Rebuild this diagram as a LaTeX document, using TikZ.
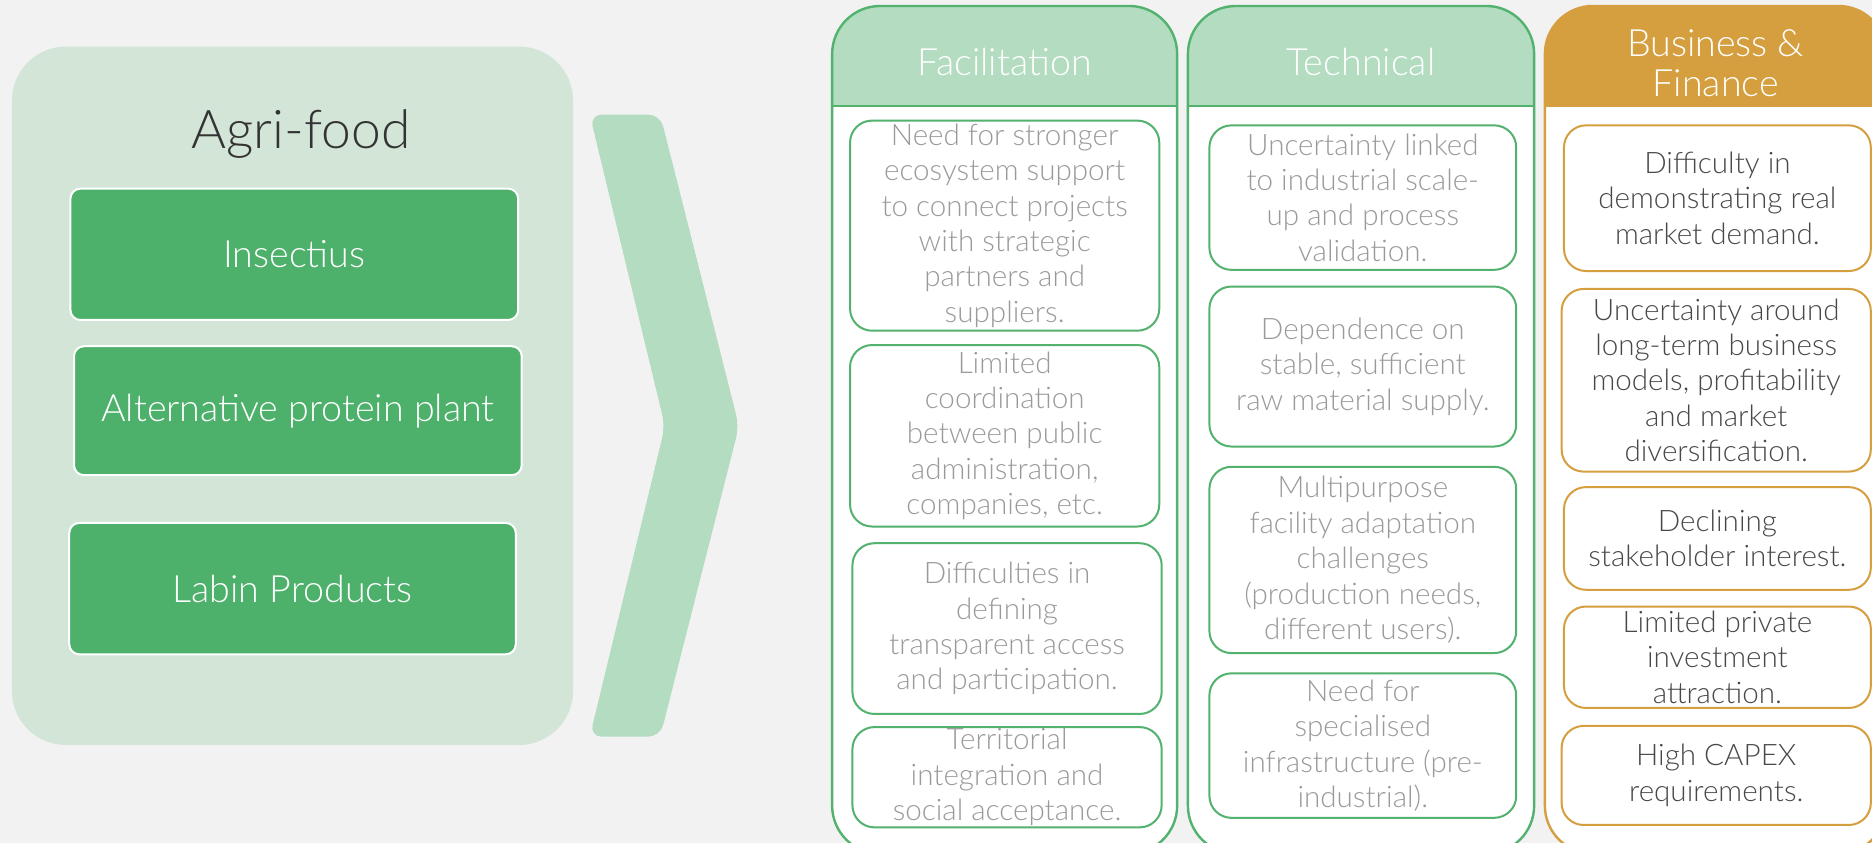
\documentclass[tikz,border=0pt]{standalone}
\usepackage{fontspec}
\setmainfont{Lato Light}
\usetikzlibrary{positioning}

\definecolor{pagegrey}{HTML}{F2F2F2}
\definecolor{panelgreen}{HTML}{D2E5D7}
\definecolor{darkgreen}{HTML}{4DB06B}
\definecolor{mintgreen}{HTML}{B3DCC1}
\definecolor{framegreen}{HTML}{52B26E}
\definecolor{ochre}{HTML}{D59F3F}
\definecolor{softgrey}{HTML}{9A9A9A}
\definecolor{inkgrey}{HTML}{484848}

\tikzset{
  projbox/.style={draw=white, line width=1pt, fill=darkgreen, rounded corners=5pt,
    text=white, font=\fontsize{18.8}{22}\selectfont, inner sep=0pt},
  colframe/.style 2 args={draw=#1, line width=1.2pt, fill=white, rounded corners=24pt, inner sep=0pt,
    path picture={
      \fill[#2, sharp corners] (path picture bounding box.north west)
        rectangle ([yshift=-50.1pt]path picture bounding box.north east);
      \draw[#1, line width=1.2pt, sharp corners] ([yshift=-50.1pt]path picture bounding box.north west)
        -- ([yshift=-50.1pt]path picture bounding box.north east);
    }},
  headtext/.style={text=white, align=center, font=\fontsize{18.8}{19.7}\selectfont},
  issuebox/.style={draw=#1, line width=1pt, fill=white, rounded corners=11pt, inner sep=0pt},
  issuetext/.style={text=#1, align=center, font=\fontsize{14.8}{17.7}\selectfont, inner sep=0pt},
}

% box from (x1,y1) to (x2,y2): name, x1, y1, x2, y2, frame colour, text colour, text
\newcommand{\issue}[8]{%
  \node[issuebox=#6, minimum width={(#4-#2)*0.597pt}, minimum height={(#5-#3)*0.597pt}]
    (#1) at ({(#2+#4)/2},{(#3+#5)/2}) {};
  \node[issuetext=#7] (#1-txt) at (#1.center) {#8};
}

\begin{document}
\begin{tikzpicture}[x=0.597pt, y=-0.597pt]
  \useasboundingbox (0,0) rectangle (1568,706);
  \fill[pagegrey] (0,0) rectangle (1568,706);

  % left panel
  \node[fill=panelgreen, rounded corners=27pt, minimum width=470*0.597pt,
    minimum height=585*0.597pt, inner sep=0pt] (sector) at (245,331.5) {};
  \node[text=black!80, font=\fontsize{26.7}{30}\selectfont] (sector-title) at (252,112) {Agri-food};
  \node[projbox, minimum width=375*0.597pt, minimum height=110*0.597pt] (insectius) at (246.5,213) {Insectius};
  \node[projbox, minimum width=375*0.597pt, minimum height=108*0.597pt] (altprotein) at (249.5,344) {Alternative protein plant};
  \node[projbox, minimum width=374*0.597pt, minimum height=110*0.597pt] (labin) at (245,493) {Labin Products};

  % chevron
  \fill[mintgreen, rounded corners=6pt] (494,96) -- (553,96) -- (619,357) -- (553,617)
    -- (494,617) -- (557,357) -- cycle;

  % columns
  \node[colframe={framegreen}{mintgreen}, minimum width=289*0.597pt, minimum height=710*0.597pt]
    (facil) at (841.5,360) {};
  \node[headtext] (facil-head) at (841.5,52) {Facilitation};

  \node[colframe={framegreen}{mintgreen}, minimum width=290*0.597pt, minimum height=710*0.597pt]
    (tech) at (1140,360) {};
  \node[headtext] (tech-head) at (1140,52) {Technical};

  \node[colframe={ochre}{ochre}, minimum width=286*0.597pt, minimum height=710*0.597pt]
    (busi) at (1437,360) {};
  \node[headtext] (busi-head) at (1437,53) {Business \&\\Finance};

  % facilitation issues
  \issue{fac1}{712}{101}{971}{277}{framegreen}{softgrey}{Need for stronger\\ecosystem support\\to connect projects\\with strategic\\partners and\\suppliers.}
  \issue{fac2}{712}{289}{971}{441}{framegreen}{softgrey}{Limited\\coordination\\between public\\administration,\\companies, etc.}
  \issue{fac3}{714}{455}{973}{598}{framegreen}{softgrey}{Difficulties in\\defining\\transparent access\\and participation.}
  \issue{fac4}{714}{609}{973}{693}{framegreen}{softgrey}{Territorial\\integration and\\social acceptance.}

  % technical issues
  \issue{tec1}{1013}{105}{1270}{226}{framegreen}{softgrey}{Uncertainty linked\\to industrial scale-\\up and process\\validation.}
  \issue{tec2}{1013}{240}{1270}{374}{framegreen}{softgrey}{Dependence on\\stable, sufficient\\raw material supply.}
  \issue{tec3}{1013}{391}{1270}{547}{framegreen}{softgrey}{Multipurpose\\facility adaptation\\challenges\\(production needs,\\different users).}
  \issue{tec4}{1013}{564}{1270}{685}{framegreen}{softgrey}{Need for\\specialised\\infrastructure (pre-\\industrial).}

  % business issues
  \issue{bus1}{1310}{105}{1567}{227}{ochre}{inkgrey}{Difficulty in\\demonstrating real\\market demand.}
  \issue{bus2}{1308}{242}{1567}{395}{ochre}{inkgrey}{Uncertainty around\\long-term business\\models, profitability\\and market\\diversification.}
  \issue{bus3}{1310}{408}{1567}{494}{ochre}{inkgrey}{Declining\\stakeholder interest.}
  \issue{bus4}{1310}{508}{1567}{593}{ochre}{inkgrey}{Limited private\\investment\\attraction.}
  \issue{bus5}{1308}{608}{1567}{691}{ochre}{inkgrey}{High CAPEX\\requirements.}
\end{tikzpicture}
\end{document}
